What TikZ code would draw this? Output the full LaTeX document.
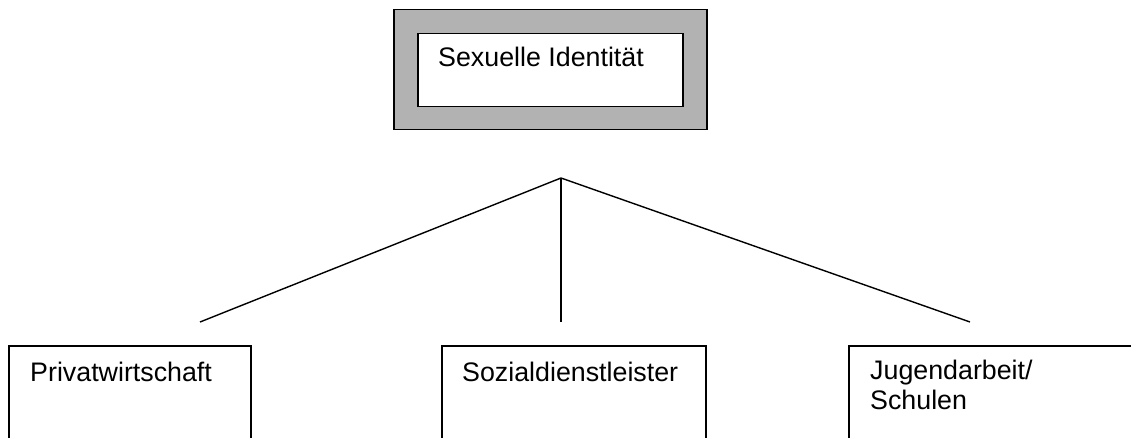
\documentclass[tikz,border=0pt]{standalone}
\usepackage{fontspec}
\setmainfont{Liberation Sans}
\begin{document}
\begin{tikzpicture}[x=1pt,y=-1pt,
  box/.style={draw=black,line width=1.5pt,fill=white,rectangle,inner sep=0pt,anchor=north west},
  shadebox/.style={box,fill=shadegray},
  txt/.style={inner sep=0pt,anchor=base west,font=\fontsize{26.8}{30}\selectfont,align=left},
  link/.style={draw=black,line width=1.4pt}]
\definecolor{shadegray}{gray}{0.70}
\useasboundingbox (0,0) rectangle (1131,438);
\clip (0,0) rectangle (1131,438);
% top box
\node[shadebox,minimum width=313pt,minimum height=120pt] (outer) at (393,9) {};
\node[box,minimum width=265pt,minimum height=73pt] (inner) at (417,33) {};
\node[txt] (ttop) at (438,66.5) {Sexuelle Identität};
% bottom boxes
\node[box,minimum width=242pt,minimum height=130pt] (b1) at (8,345) {};
\node[txt] (t1) at (30,381) {Privatwirtschaft};
\node[box,minimum width=264pt,minimum height=130pt] (b2) at (441,345) {};
\node[txt] (t2) at (462,381) {Sozialdienstleister};
\node[box,minimum width=320pt,minimum height=130pt] (b3) at (848,345) {};
\node[txt,anchor=north west] (t3) at (870,360) {Jugendarbeit/\\Schulen};
% connectors
\coordinate (apex) at (561,178);
\coordinate (e1) at (200,322);
\coordinate (e2) at (561,322);
\coordinate (e3) at (970,322);
\draw[link] (e1) -- (apex) -- (e3);
\draw[link] (apex) -- (e2);
\end{tikzpicture}
\end{document}
